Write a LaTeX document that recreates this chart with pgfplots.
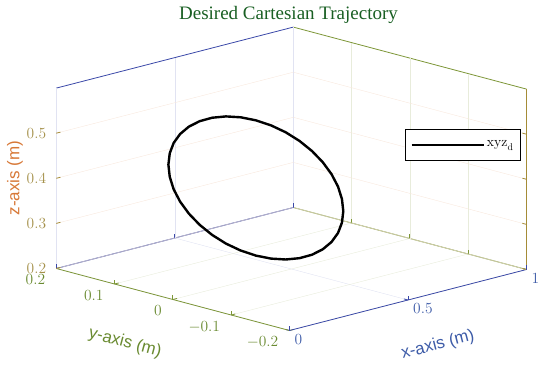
\documentclass[border=0pt]{standalone}
\usepackage{fix-cm}
\usepackage{fontspec}
\usepackage{pgfplots}
\pgfplotsset{compat=1.18}
\newfontfamily\sansf{Liberation Sans}
\newfontfamily\seriff{Liberation Serif}
\definecolor{xc}{RGB}{58,72,168}
\definecolor{xt}{RGB}{62,92,168}
\definecolor{yc}{RGB}{125,150,55}
\definecolor{yt}{RGB}{105,138,48}
\definecolor{zc}{RGB}{165,140,55}
\definecolor{zt}{RGB}{165,145,75}
\definecolor{zl}{RGB}{215,120,55}
\definecolor{tc}{RGB}{25,95,35}
\begin{document}
\begin{tikzpicture}
\begin{axis}[
  x={(237pt,61pt)}, y={(-583pt,155pt)}, z={(0pt,451pt)},
  xmin=0, xmax=1, ymin=-0.2, ymax=0.2, zmin=0.2, zmax=0.6,
  xtick={0,0.5,1}, ytick={-0.2,-0.1,0,0.1,0.2}, ztick={0.2,0.3,0.4,0.5},
  tick pos=left,
  grid=major,
  major x grid style={xc!15},
  major y grid style={yc!18},
  major z grid style={zl!17},
  x axis line style={xc, line width=0.8pt},
  y axis line style={yc, line width=0.8pt},
  z axis line style={zc, line width=0.8pt},
  xtick style={xc, line width=0.8pt},
  ytick style={yc, line width=0.8pt},
  ztick style={zc, line width=0.8pt},
  tick label style={font=\fontsize{15.5}{18}\selectfont, inner sep=0pt},
  xticklabel style={text=xt, anchor=north west, xshift=5pt, yshift=-3.5pt},
  yticklabel style={text=yt, anchor=north east, xshift=-11pt, yshift=-6pt},
  zticklabel style={text=zt, anchor=east, xshift=-10pt, yshift=0pt},
  label style={font=\sansf\fontsize{17}{20}\selectfont},
  xlabel={x-axis (m)}, ylabel={y-axis (m)}, zlabel={z-axis (m)},
  xlabel style={text=xt, at={(axis cs:0.2015,-0.3728,0.2)}, anchor=center, sloped like x axis},
  ylabel style={text=yt, at={(axis cs:-0.4535,-0.1022,0.2)}, anchor=center, sloped like y axis},
  zlabel style={text=zl, at={(axis cs:-0.1743,0.2,0.4243)}, anchor=center, rotate=0},
  legend style={at={(0.988,0.664)}, anchor=north east, draw=black, line width=0.8pt,
    font=\fontsize{14}{16}\selectfont, inner xsep=5pt, inner ysep=9.5pt},
  legend image code/.code={\draw[#1] (0pt,0pt) -- (72pt,0pt);},
]
\addplot3[black, line width=2.4pt] coordinates {
(0.35,0.1500,0.4000) (0.35,0.1477,0.4260) (0.35,0.1410,0.4513) (0.35,0.1299,0.4750)
(0.35,0.1149,0.4964) (0.35,0.0964,0.5149) (0.35,0.0750,0.5299) (0.35,0.0513,0.5410)
(0.35,0.0261,0.5477) (0.35,0.0000,0.5500) (0.35,-0.0261,0.5477) (0.35,-0.0513,0.5410)
(0.35,-0.0750,0.5299) (0.35,-0.0964,0.5149) (0.35,-0.1149,0.4964) (0.35,-0.1299,0.4750)
(0.35,-0.1410,0.4513) (0.35,-0.1477,0.4260) (0.35,-0.1500,0.4000) (0.35,-0.1477,0.3740)
(0.35,-0.1410,0.3487) (0.35,-0.1299,0.3250) (0.35,-0.1149,0.3036) (0.35,-0.0964,0.2851)
(0.35,-0.0750,0.2701) (0.35,-0.0513,0.2590) (0.35,-0.0261,0.2523) (0.35,0.0000,0.2500)
(0.35,0.0261,0.2523) (0.35,0.0513,0.2590) (0.35,0.0750,0.2701) (0.35,0.0964,0.2851)
(0.35,0.1149,0.3036) (0.35,0.1299,0.3250) (0.35,0.1410,0.3487) (0.35,0.1477,0.3740)
(0.35,0.1500,0.4000)
};
\addlegendentry{$\mathrm{xyz}_{\mathrm{d}}$}
\coordinate (F) at (axis cs:0,-0.2,0.2);
\end{axis}
\path (F) ++(-1pt,311.2pt) node[anchor=base, font=\seriff\fontsize{19}{22}\selectfont, text=tc, inner sep=0pt] {Desired Cartesian Trajectory};
\pgfresetboundingbox
\path (F) ++(-289.5pt,330.5pt) rectangle ++(550pt,-365pt);
\end{tikzpicture}
\end{document}
